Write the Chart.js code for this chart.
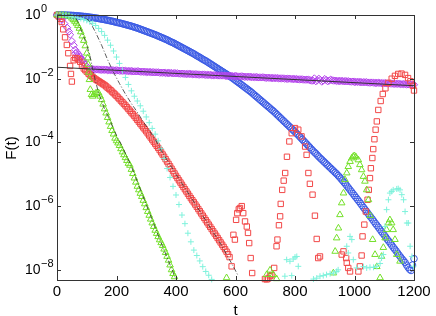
<!DOCTYPE html>
<html>
<head>
<meta charset="utf-8">
<script src="https://cdn.jsdelivr.net/npm/chart.js@4.4.0/dist/chart.umd.min.js"></script>
<style>
  html, body { margin: 0; padding: 0; background: #fff; }
  #wrap { width: 436px; height: 316px; }
</style>
</head>
<body>
<div id="wrap"><canvas id="fchart" width="436" height="316"></canvas></div>
<script>
// values are stored as log10(F)
const tFine = [0,5,10,15,20,25,30,35,40,45,50,55,60,65,70,75,80,85,90,95,
  100,105,110,115,120,125,130,135,140,145,150,155,160,165,170,175,180,185,190,195,
  200,205,210,215,220,225,230,235,240,245,250,255,260,265,270,275,280,285,290,295,
  300,305,310,315,320,325,330,335,340,345,350,355,360,365,370,375,380,385,390,395,
  400,405,410,415,420,425,430,435,440,445,450,455,460,465,470,475,480,485,490,495,
  500,505,510,515,520,525,530,535,540,545,550,555,560,565,570,575,580,585,590,595,
  600,605,610,615,620,625,630,635,640,645,650,655,660,665,670,675,680,685,690,695,
  700,705,710,715,720,725,730,735,740,745,750,755,760,765,770,775,780,785,790,795,
  800,805,810,815,820,825,830,835,840,845,850,855,860,865,870,875,880,885,890,895,
  900,905,910,915,920,925,930,935,940,945,950,955,960,965,970,975,980,985,990,995,
  1000,1005,1010,1015,1020,1025,1030,1035,1040,1045,1050,1055,1060,1065,1070,1075,1080,1085,1090,1095,
  1100,1105,1110,1115,1120,1125,1130,1135,1140,1145,1150,1155,1160,1165,1170,1175,1180,1185,1190,1195,1200];
const tGrid = [0,10,20,30,40,50,60,70,80,90,100,110,120,130,140,150,160,170,180,190,
  200,210,220,230,240,250,260,270,280,290,300,310,320,330,340,350,360,370,380,390,
  400,410,420,430,440,450,460,470,480,490,500,510,520];

const logBlue = [0,0,0,0,-0.002,-0.003,-0.005,-0.006,-0.008,-0.01,
  -0.012,-0.016,-0.02,-0.023,-0.027,-0.031,-0.035,-0.04,-0.045,-0.05,
  -0.055,-0.061,-0.068,-0.074,-0.08,-0.087,-0.095,-0.102,-0.11,-0.12,
  -0.13,-0.137,-0.145,-0.155,-0.165,-0.175,-0.185,-0.195,-0.205,-0.218,
  -0.23,-0.24,-0.25,-0.262,-0.275,-0.287,-0.3,-0.312,-0.325,-0.337,
  -0.35,-0.365,-0.38,-0.395,-0.41,-0.427,-0.445,-0.462,-0.48,-0.497,
  -0.515,-0.532,-0.55,-0.567,-0.585,-0.602,-0.62,-0.64,-0.66,-0.68,
  -0.7,-0.72,-0.74,-0.76,-0.78,-0.805,-0.83,-0.85,-0.87,-0.895,
  -0.92,-0.945,-0.97,-0.995,-1.02,-1.045,-1.07,-1.095,-1.12,-1.145,
  -1.17,-1.195,-1.22,-1.25,-1.28,-1.305,-1.33,-1.36,-1.39,-1.415,
  -1.44,-1.47,-1.5,-1.53,-1.56,-1.59,-1.62,-1.65,-1.68,-1.71,
  -1.74,-1.77,-1.8,-1.83,-1.86,-1.89,-1.92,-1.95,-1.98,-2.015,
  -2.05,-2.085,-2.12,-2.155,-2.19,-2.225,-2.26,-2.295,-2.33,-2.365,
  -2.4,-2.44,-2.48,-2.52,-2.56,-2.6,-2.64,-2.68,-2.72,-2.76,
  -2.8,-2.84,-2.88,-2.92,-2.96,-3.0,-3.04,-3.085,-3.13,-3.175,
  -3.22,-3.265,-3.31,-3.355,-3.4,-3.445,-3.49,-3.535,-3.58,-3.625,
  -3.67,-3.715,-3.76,-3.81,-3.86,-3.91,-3.96,-4.01,-4.06,-4.11,
  -4.16,-4.21,-4.26,-4.305,-4.35,-4.4,-4.45,-4.495,-4.54,-4.585,
  -4.63,-4.675,-4.72,-4.765,-4.81,-4.855,-4.9,-4.945,-4.99,-5.04,
  -5.09,-5.145,-5.2,-5.255,-5.31,-5.37,-5.43,-5.49,-5.55,-5.61,
  -5.67,-5.73,-5.79,-5.85,-5.91,-5.975,-6.04,-6.1,-6.16,-6.225,
  -6.29,-6.35,-6.41,-6.475,-6.54,-6.6,-6.66,-6.725,-6.79,-6.85,
  -6.91,-6.975,-7.04,-7.1,-7.16,-7.225,-7.29,-7.35,-7.41,-7.475,
  -7.54,-7.6,-7.66,-7.715,-7.77,-7.85,-7.92,-7.98,-8.02,-7.85,
  -7.65];

const tPurpleEarly = [0,5,10,17,25,34,40,44,50,56,61,62,67,70,73,78,80,84,88,89,94,100,106];
const logPurpleEarly = [0,-0.03,-0.07,-0.15,-0.27,-0.4,-0.52,-0.62,-0.82,-0.95,
  -1.09,-1.2,-1.17,-1.3,-1.24,-1.32,-1.38,-1.4,-1.42,-1.48,-1.56,-1.62,-1.66];
const logPurpleTail = [
  -1.70,-1.70,-1.70,-1.71,-1.71,-1.71,-1.71,-1.72,-1.72,-1.72,-1.72,-1.72,-1.73,-1.73,-1.73,-1.73,-1.74,-1.74,-1.74,-1.74,
  -1.75,-1.75,-1.75,-1.75,-1.75,-1.76,-1.76,-1.76,-1.76,-1.77,-1.77,-1.77,-1.77,-1.77,-1.78,-1.78,-1.78,-1.78,-1.79,-1.79,
  -1.79,-1.79,-1.80,-1.80,-1.80,-1.80,-1.80,-1.81,-1.81,-1.81,-1.81,-1.82,-1.82,-1.82,-1.82,-1.82,-1.83,-1.83,-1.83,-1.83,
  -1.84,-1.84,-1.84,-1.84,-1.85,-1.85,-1.85,-1.85,-1.85,-1.86,-1.86,-1.86,-1.86,-1.87,-1.87,-1.87,-1.87,-1.87,-1.88,-1.88,
  -1.88,-1.88,-1.89,-1.89,-1.89,-1.89,-1.89,-1.90,-1.90,-1.90,-1.90,-1.91,-1.91,-1.91,-1.91,-1.91,-1.92,-1.92,-1.92,-1.92,
  -1.93,-1.93,-1.93,-1.93,-1.94,-1.94,-1.94,-1.94,-1.94,-1.95,-1.95,-1.95,-1.95,-1.96,-1.96,-1.96,-1.96,-1.96,-1.97,-1.97,
  -1.97,-1.97,-1.98,-1.98,-1.98,-1.98,-1.98,-1.99,-1.99,-1.99,-1.99,-2.00,-2.00,-2.00,-2.00,-2.00,-2.01,-2.01,-2.01,-2.01,
  -2.02,-2.02,-2.02,-2.02,-2.03,-2.03,-2.03,-2.03,-2.04,-2.06,-2.06,-1.99,-2.08,-2.05,-2.00,-2.04,-2.09,-2.06,-2.01,-2.04,
  -2.08,-2.06,-2.03,-2.05,-2.06,-2.06,-2.07,-2.07,-2.07,-2.07,-2.07,-2.08,-2.08,-2.08,-2.08,-2.09,-2.09,-2.09,-2.10,-2.10,
  -2.10,-2.10,-2.11,-2.11,-2.11,-2.11,-2.11,-2.12,-2.12,-2.12,-2.12,-2.13,-2.13,-2.13,-2.13,-2.13,-2.14,-2.14,-2.14,-2.14,
  -2.15,-2.15,-2.15,-2.15,-2.16,-2.16,-2.16,-2.16,-2.16,-2.17,-2.17,-2.17,-2.17,-2.18,-2.18,-2.18,-2.18,-2.19,-2.19];

const tRedEarly = [0,6,11,16,21,27,33,38,44,47,50,56,61,67,72,78,84,90,95,100,106];
const logRedEarly = [0,-0.05,-0.12,-0.22,-0.45,-0.7,-0.94,-1.2,-1.6,-1.85,-2.09,
  -1.42,-1.35,-1.36,-1.4,-1.47,-1.6,-1.68,-1.73,-1.78,-1.84];
const logRedBand = [-1.87,-1.91,-1.95,-1.985,-2.02,-2.05,-2.08,-2.11,-2.14,-2.17,
  -2.2,-2.24,-2.28,-2.32,-2.36,-2.405,-2.45,-2.495,-2.54,-2.59,
  -2.64,-2.69,-2.74,-2.79,-2.84,-2.895,-2.95,-3.005,-3.06,-3.115,
  -3.17,-3.23,-3.29,-3.35,-3.41,-3.47,-3.53,-3.59,-3.65,-3.715,
  -3.78,-3.845,-3.91,-3.975,-4.04,-4.105,-4.17,-4.24,-4.31,-4.38,
  -4.45,-4.525,-4.6,-4.675,-4.75,-4.825,-4.9,-4.975,-5.05,-5.12,
  -5.19,-5.26,-5.33,-5.4,-5.47,-5.54,-5.61,-5.68,-5.75,-5.815,
  -5.88,-5.95,-6.02,-6.09,-6.16,-6.23,-6.3,-6.37,-6.44,-6.51,
  -6.58,-6.65,-6.72,-6.79,-6.86,-6.93,-7.0,-7.07,-7.14,-7.21,
  -7.28,-7.355,-7.43,-7.51,-7.6];
const tRedLate = [587,593,598,602,606,611,615,621,626,632,638,642,646,651,656,699,705,710,716,721,
  730,738,741,746,750,752,757,762,767,773,781,789,800,811,822,834,839,845,850,859,
  867,873,878,884,957,963,972,974,979,985,1013,1018,1024,1027,1033,1038,1044,1048,1052,1055,
  1060,1063,1067,1071,1075,1080,1088,1095,1104,1114,1125,1136,1147,1158,1170,1180,1188,1196,1200];
const logRedLate = [-7.89,-6.9,-7.05,-6.43,-6.22,-6.1,-6.06,-6.0,-6.22,-6.48,
  -6.64,-6.84,-7.16,-7.63,-8.1,-8.29,-8.3,-8.27,-8.2,-8.17,
  -7.94,-7.26,-7.05,-6.6,-6.32,-5.93,-5.49,-5.2,-4.96,-4.45,
  -3.97,-3.71,-3.55,-3.6,-3.81,-4.13,-4.39,-4.96,-5.3,-5.64,
  -6.3,-7.03,-7.63,-7.58,-7.52,-7.42,-7.63,-7.78,-7.94,-8.05,
  -8.05,-7.89,-7.55,-6.95,-6.58,-6.17,-5.8,-5.49,-5.12,-4.81,
  -4.49,-4.21,-3.9,-3.6,-3.34,-2.98,-2.7,-2.48,-2.3,-2.13,
  -2.0,-1.91,-1.85,-1.84,-1.88,-1.98,-2.08,-2.22,-2.37];

const tGreenEarly = [0,10,20,30,40,50,55,60,65,70,75,80,85,90,95,100,103,105,107,109,112,116,
  120,125,130,135,140,145,150,155,160,165,170,175,180,185,190,195,200,205,210,215,220,225,
  230,235,240,245,250,255,260,265,270,275,280,285,290,295,300,305,310,315,320,325,330,335,
  340,345,350,355,360,365,370,375,380,385,390,395];
const logGreenEarly = [0,0,-0.01,-0.02,-0.04,-0.1,-0.15,-0.2,-0.26,-0.33,-0.42,-0.53,-0.66,-0.8,-0.97,-1.2,
  -1.35,-1.55,-1.8,-2.03,-2.34,-2.5,
  -2.55,-2.5,-2.46,-2.44,-2.45,-2.55,-2.66,-2.8,-2.95,-3.08,-3.22,-3.36,-3.5,-3.63,-3.74,-3.87,
  -3.95,-4.02,-4.1,-4.2,-4.3,-4.39,-4.48,-4.57,-4.66,-4.72,-4.85,-4.98,-5.12,-5.25,-5.38,-5.49,
  -5.6,-5.7,-5.82,-5.93,-6.05,-6.17,-6.29,-6.41,-6.53,-6.64,-6.76,-6.86,-6.96,-7.06,-7.15,-7.24,
  -7.35,-7.46,-7.58,-7.7,-7.85,-8.0,-8.12,-8.22];
const tGreenLate = [570,705,716,727,738,929,935,940,946,951,957,963,968,974,979,985,991,996,1000,1005,
  1013,1018,1024,1030,1035,1041,1047,1053,1061,1069,1075,1086,1091,1097,1103,1108,1114,1119,1125,1130,
  1136,1142,1153];
const logGreenLate = [-8.25,-8.15,-8.01,-8.15,-8.28,-8.1,-7.42,-7.0,-6.69,-6.27,-5.9,-5.59,-5.17,-4.96,-4.76,
  -4.6,-4.49,-4.44,-4.42,-4.46,-4.55,-4.7,-4.86,-5.07,-5.22,-5.49,-5.8,-6.3,-7.05,-7.52,-7.9,-8.25,
  -7.58,-7.3,-7.0,-6.74,-6.53,-6.43,-6.53,-6.74,-7.05,-7.52,-7.73];

const logCyanEarly = [0,0,-0.01,-0.02,-0.03,-0.05,-0.07,-0.09,-0.11,-0.14,
  -0.17,-0.21,-0.26,-0.33,-0.42,-0.52,-0.64,-0.79,-0.95,-1.13,
  -1.32,-1.52,-1.74,-1.96,-2.18,-2.38,-2.55,-2.7,-2.85,-3.02,
  -3.2,-3.38,-3.56,-3.74,-3.95,-4.2,-4.5,-4.82,-5.1,-5.38,
  -5.65,-5.95,-6.28,-6.55,-6.85,-7.12,-7.38,-7.55,-7.72,-7.9,
  -8.05,-8.17,-8.3];
const tCyanLate = [766,772,783,789,794,800,806,811,862,873,884,895,906,918,929,940,945,974,979,985,
  991,996,1007,1030,1041,1052,1064,1075,1086,1091,1097,1102,1108,1114,1119,1125,1130,1142,1147,1153,
  1159,1165,1170,1176,1181,1187,1193,1198];
const logCyanLate = [-8.2,-7.68,-7.73,-8.18,-7.66,-7.6,-7.58,-7.89,-8.29,-8.26,
  -8.2,-8.18,-8.15,-8.12,-8.1,-8.05,-8.0,-7.26,-7.47,-6.95,
  -7.05,-7.68,-7.94,-7.9,-7.94,-7.92,-7.92,-7.89,-7.8,-7.63,
  -7.52,-6.64,-6.11,-5.8,-5.59,-5.54,-5.49,-5.46,-5.45,-5.49,
  -5.64,-5.8,-6.17,-6.53,-6.53,-7.26,-7.58,-7.89];

// fitted curves
const tFit = [0, 1200];
const logFit = [-1.64, -2.22];
const tFitA = [0,30,50,60,70,80,90,100,110,120,130,140,150,160,170,180,200,217,250,300,350,400];
const logFitA = [0,-0.005,-0.02,-0.06,-0.2,-0.45,-0.68,-0.95,-1.25,-1.7,-2.1,-2.45,-2.7,-2.95,-3.15,-3.35,-3.78,-4.08,-4.75,-5.95,-7.15,-8.3];
const tFitB = [0,60,90,110,130,150,170,190,210,230,250,270,290,310,330,350,400,450,500,550,590,610];
const logFitB = [0,-0.01,-0.05,-0.2,-0.55,-0.95,-1.4,-1.8,-2.15,-2.48,-2.78,-3.05,-3.35,-3.62,-3.9,-4.25,-5.0,-5.72,-6.45,-7.18,-7.85,-8.2];

const xTicks = [0, 200, 400, 600, 800, 1000, 1200];
const yExps = [0, -2, -4, -6, -8];

function pts(ts, logs) {
  return ts.map((t, i) => ({ x: t, y: Math.pow(10, logs[i]) }));
}

function markers(label, data, style, color, r) {
  return {
    label: label,
    data: data,
    showLine: false,
    pointStyle: style,
    pointRadius: r,
    pointBorderColor: color,
    pointBackgroundColor: 'rgba(0,0,0,0)',
    pointBorderWidth: 1,
    clip: false
  };
}

function fitLine(label, data, dash) {
  return {
    label: label,
    data: data,
    showLine: true,
    borderColor: '#333',
    borderWidth: dash ? 0.8 : 1,
    borderDash: dash || [],
    pointRadius: 0,
    fill: false,
    clip: false
  };
}

const FONT = '"Liberation Sans", Arial, sans-serif';

const axesBox = {
  id: 'axesBox',
  afterDraw(chart) {
    const { ctx, chartArea: a, scales: { x, y } } = chart;
    ctx.save();
    ctx.strokeStyle = '#333';
    ctx.lineWidth = 1;
    ctx.strokeRect(Math.round(a.left) + 0.5, Math.round(a.top) + 0.5,
      Math.round(a.right - a.left), Math.round(a.bottom - a.top));
    ctx.beginPath();
    xTicks.forEach(v => {
      const px = Math.round(x.getPixelForValue(v)) + 0.5;
      ctx.moveTo(px, a.bottom); ctx.lineTo(px, a.bottom - 4);
      ctx.moveTo(px, a.top); ctx.lineTo(px, a.top + 4);
    });
    yExps.forEach(e => {
      const py = Math.round(y.getPixelForValue(Math.pow(10, e))) + 0.5;
      ctx.moveTo(a.left, py); ctx.lineTo(a.left + 4, py);
      ctx.moveTo(a.right, py); ctx.lineTo(a.right - 4, py);
    });
    ctx.stroke();

    ctx.fillStyle = '#000';
    ctx.font = '15px ' + FONT;
    ctx.textAlign = 'center';
    ctx.textBaseline = 'middle';
    xTicks.forEach(v => ctx.fillText(String(v), x.getPixelForValue(v), a.bottom + 12));

    yExps.forEach(e => {
      const py = y.getPixelForValue(Math.pow(10, e));
      ctx.textAlign = 'left';
      ctx.font = '14px ' + FONT;
      ctx.fillText('10', 25, py);
      const w = ctx.measureText('10').width;
      ctx.font = '11px ' + FONT;
      ctx.fillText(e === 0 ? '0' : '\u2212' + String(-e), 25 + w + 0.5, py - 6);
    });

    ctx.font = '15px ' + FONT;
    ctx.textAlign = 'center';
    ctx.textBaseline = 'alphabetic';
    ctx.fillText('t', (a.left + a.right) / 2, 315);

    ctx.translate(12, 148);
    ctx.rotate(-Math.PI / 2);
    ctx.textBaseline = 'middle';
    ctx.fillText('F(t)', 0, 0);
    ctx.restore();
  }
};

const datasets = [
  fitLine('fit', pts(tFit, logFit), null),
  fitLine('fit A', pts(tFitA, logFitA), [5, 2, 1, 2]),
  fitLine('fit B', pts(tFitB, logFitB), [5, 2, 1, 2]),
  markers('cyan', pts(tGrid.concat(tCyanLate), logCyanEarly.concat(logCyanLate)), 'cross', '#7ff2dc', 3),
  markers('green', pts(tGreenEarly.concat(tGreenLate), logGreenEarly.concat(logGreenLate)), 'triangle', '#74e02a', 3.8),
  markers('red', pts(tRedEarly.concat(tFine.slice(22, 117), tRedLate), logRedEarly.concat(logRedBand, logRedLate)), 'rect', '#f24848', 3.8),
  markers('purple', pts(tPurpleEarly.concat(tFine.slice(22)), logPurpleEarly.concat(logPurpleTail)), 'rectRot', '#b444ec', 3.6),
  markers('blue', pts(tFine, logBlue), 'circle', '#3a5ae4', 3.3)
];

new Chart(document.getElementById('fchart').getContext('2d'), {
  type: 'scatter',
  data: { datasets: datasets },
  options: {
    responsive: false,
    animation: false,
    devicePixelRatio: 1,
    events: [],
    layout: { padding: { left: 57, top: 15, right: 22, bottom: 36 } },
    scales: {
      x: { type: 'linear', min: 0, max: 1200, display: false },
      y: { type: 'logarithmic', min: 4.8e-9, max: 1, display: false }
    },
    plugins: { legend: { display: false }, tooltip: { enabled: false } }
  },
  plugins: [axesBox]
});
</script>
</body>
</html>
